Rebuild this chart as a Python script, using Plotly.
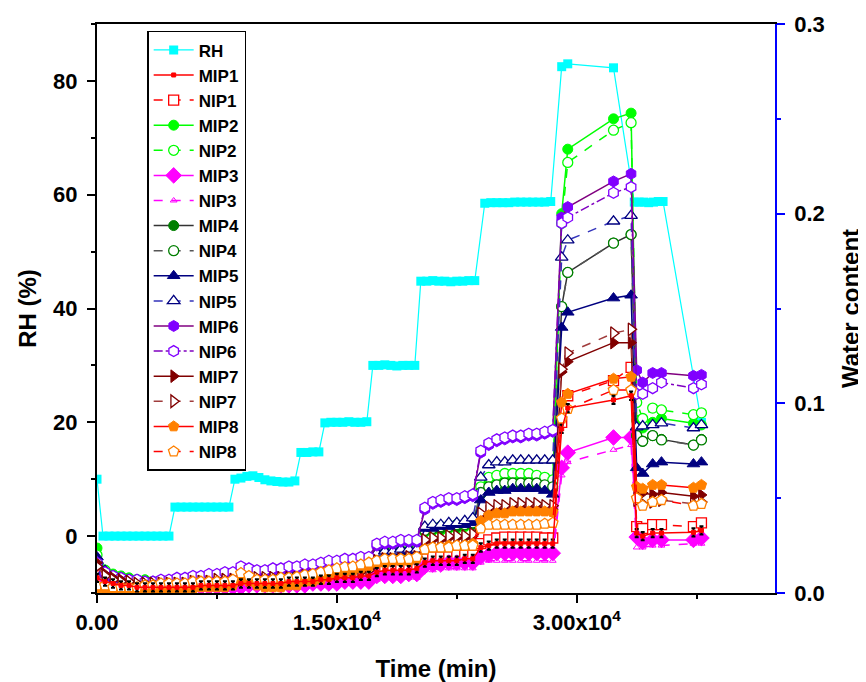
import plotly.graph_objects as go

# ---------------- data ----------------
rh_time = [0,
           375, 750, 1125, 1500, 1875, 2250, 2625, 3000, 3375, 3750, 4125, 4500,
           4875, 5250, 5625, 6000, 6375, 6750, 7125, 7500, 7875, 8250,
           8625, 9000, 9375, 9750, 10125, 10500, 10875, 11250, 11625, 12000, 12375,
           12750, 13125, 13500, 13875,
           14250, 14625, 15000, 15375, 15750, 16125, 16500, 16875,
           17250, 17625, 18000, 18375, 18750, 19125, 19500, 19875,
           20250, 20625, 21000, 21375, 21750, 22125, 22500, 22875, 23250, 23625,
           24250, 24625, 25000, 25375, 25750, 26125, 26500, 26875, 27250, 27625, 28000, 28375,
           29060, 29440, 32300,
           33600, 33900, 34200, 34500, 34800, 35100, 35400,
           37800]
rh_vals = [10.0,
           0, 0, 0, 0, 0, 0, 0, 0, 0, 0, 0, 0,
           5.1, 5.1, 5.1, 5.1, 5.1, 5.1, 5.1, 5.1, 5.1, 5.1,
           10.0, 10.2, 10.5, 10.6, 10.3, 9.9, 9.7, 9.6, 9.5, 9.5, 9.7,
           14.7, 14.7, 14.8, 14.8,
           19.9, 20.0, 20.0, 20.0, 20.1, 20.0, 20.0, 20.1,
           30.0, 30.0, 30.1, 30.0, 29.9, 30.0, 30.0, 30.0,
           44.8, 44.8, 44.9, 44.8, 44.8, 44.7, 44.8, 44.8, 44.9, 44.9,
           58.5, 58.6, 58.6, 58.6, 58.6, 58.7, 58.7, 58.7, 58.7, 58.7, 58.7, 58.8,
           82.5, 83.0, 82.3,
           58.7, 58.7, 58.7, 58.6, 58.7, 58.8, 58.8,
           20.0]

time_wc = [0, 500, 1000, 1500, 2000, 2500, 3000, 3500, 4000, 4500,
           5000, 5500, 6000, 6500, 7000, 7500, 8000, 8500,
           9000, 9500, 10000, 10500, 11000, 11500, 12000, 12500,
           13000, 13500, 14000,
           14500, 15000, 15500, 16000, 16500, 17000,
           17500, 18000, 18500, 19000, 19500, 20000,
           20500, 21000, 21500, 22000, 22500, 23000, 23500,
           24000, 24500, 25000, 25500, 26000, 26500, 27000, 27500, 28000, 28500,
           29060, 29440, 32300, 33400,
           33750, 34125, 34750, 35300, 37300, 37800]

mip1 = [.008, .006, .005, .004, .004, .003, .003, .003, .003, .003,
        .003, .003, .003, .004, .004, .004, .004, .004,
        .005, .005, .005, .005, .005, .005, .006, .006,
        .006, .006, .007,
        .007, .008, .008, .008, .009, .009,
        .011, .012, .012, .012, .012, .013,
        .016, .017, .017, .017, .017, .018, .018,
        .024, .025, .026, .026, .026, .026, .026, .026, .026, .026,
        .0865, .0975, .1018, .104,
        .0316, .030, .0316, .0316, .032, .033]
nip1 = [.009, .006, .005, .004, .004, .004, .004, .004, .004, .004,
        .004, .004, .004, .005, .005, .005, .005, .005,
        .006, .006, .006, .006, .006, .006, .007, .007,
        .007, .007, .008,
        .008, .009, .009, .009, .010, .010,
        .013, .013, .014, .014, .014, .014,
        .018, .019, .019, .019, .020, .020, .020,
        .026, .028, .029, .0295, .0295, .0295, .0295, .0295, .029, .029,
        .090, .104, .112, .119,
        .035, .034, .036, .036, .035, .037]
mip2 = [.0237, .012, .010, .009, .008, .007, .007, .006, .006, .006,
        .006, .007, .007, .007, .008, .008, .008, .009,
        .009, .009, .009, .009, .010, .010, .010, .010,
        .011, .011, .012,
        .013, .013, .013, .014, .014, .015,
        .020, .021, .021, .021, .022, .022,
        .032, .033, .033, .034, .034, .035, .035,
        .054, .058, .059, .060, .060, .060, .060, .060, .059, .058,
        .200, .234, .250, .253,
        .091, .087, .090, .092, .0895, .0886]
nip2 = [.020, .012, .009, .008, .007, .007, .006, .006, .006, .006,
        .006, .007, .007, .008, .008, .008, .009, .009,
        .009, .009, .010, .010, .010, .010, .011, .011,
        .011, .012, .012,
        .013, .014, .014, .015, .015, .015,
        .021, .022, .022, .022, .023, .023,
        .033, .034, .035, .035, .036, .036, .036,
        .056, .061, .062, .063, .063, .063, .063, .062, .061, .0596,
        .195, .227, .244, .248,
        .1005, .092, .0975, .0965, .094, .095]
mip3 = [.005, .004, .003, .003, .003, .003, .003, .003, .003, .003,
        .003, .003, .003, .003, .003, .003, .003, .003,
        .003, .004, .004, .004, .004, .004, .004, .004,
        .004, .005, .005,
        .005, .005, .006, .006, .006, .006,
        .009, .009, .009, .009, .010, .010,
        .014, .015, .015, .016, .016, .016, .016,
        .019, .020, .021, .021, .021, .021, .021, .021, .021, .021,
        .066, .074, .082, .082,
        .0295, .027, .028, .028, .028, .029]
nip3 = [.004, .003, .002, .002, .002, .002, .002, .002, .002, .002,
        .002, .002, .002, .002, .002, .002, .003, .003,
        .003, .003, .003, .003, .003, .003, .003, .003,
        .003, .004, .004,
        .004, .004, .005, .005, .005, .005,
        .007, .008, .008, .008, .008, .008,
        .012, .012, .013, .013, .013, .013, .013,
        .016, .017, .017, .017, .017, .017, .017, .017, .017, .017,
        .062, .069, .0755, .078,
        .024, .024, .025, .025, .026, .026]
mip4 = [.016, .011, .009, .008, .007, .006, .006, .005, .005, .005,
        .006, .006, .007, .007, .007, .008, .008, .008,
        .008, .008, .009, .009, .009, .009, .009, .010,
        .010, .011, .011,
        .012, .013, .013, .014, .014, .014,
        .020, .021, .021, .022, .022, .022,
        .033, .034, .034, .035, .035, .036, .036,
        .052, .055, .056, .057, .057, .057, .057, .057, .056, .055,
        .151, .169, .1845, .189,
        .083, .080, .083, .081, .078, .081]
nip4 = [.015, .010, .008, .007, .006, .006, .006, .005, .005, .005,
        .006, .006, .007, .007, .007, .008, .008, .008,
        .008, .009, .009, .009, .009, .010, .010, .010,
        .010, .011, .011,
        .012, .013, .013, .014, .014, .015,
        .020, .021, .022, .022, .022, .023,
        .033, .034, .035, .035, .036, .036, .037,
        .053, .056, .057, .058, .058, .058, .058, .058, .057, .056,
        .151, .169, .1845, .189,
        .083, .080, .083, .0807, .078, .0807]
mip5 = [.019, .012, .009, .008, .007, .006, .006, .005, .005, .005,
        .005, .006, .006, .007, .007, .007, .008, .008,
        .008, .008, .008, .009, .009, .009, .009, .009,
        .010, .010, .011,
        .012, .012, .013, .013, .014, .014,
        .020, .021, .021, .022, .022, .022,
        .034, .034, .035, .035, .036, .036, .037,
        .049, .053, .054, .054, .055, .055, .055, .055, .054, .052,
        .140, .148, .1555, .157,
        .066, .063, .068, .069, .068, .069]
nip5 = [.017, .011, .008, .007, .006, .006, .005, .005, .005, .005,
        .006, .006, .007, .007, .008, .008, .008, .009,
        .009, .009, .009, .010, .010, .010, .010, .010,
        .011, .011, .012,
        .013, .013, .014, .014, .015, .015,
        .021, .022, .022, .023, .023, .023,
        .035, .036, .036, .037, .037, .038, .0395,
        .061, .0675, .069, .069, .070, .070, .070, .070, .070, .070,
        .177, .186, .196, .199,
        .0875, .088, .0886, .0896, .087, .0886]
mip6 = [.015, .010, .008, .007, .006, .006, .006, .006, .006, .006,
        .007, .007, .008, .008, .009, .009, .010, .010,
        .013, .012, .011, .011, .012, .012, .013, .013,
        .014, .014, .015,
        .016, .016, .017, .017, .018, .018,
        .025, .026, .026, .027, .027, .027,
        .044, .047, .048, .049, .049, .050, .051,
        .074, .078, .080, .081, .082, .082, .083, .083, .084, .085,
        .198, .2035, .217, .221,
        .1175, .111, .116, .116, .1145, .115]
nip6 = [.016, .011, .009, .008, .007, .007, .006, .006, .007, .007,
        .008, .008, .009, .009, .010, .010, .011, .011,
        .014, .013, .012, .012, .013, .013, .014, .014,
        .015, .015, .016,
        .017, .017, .018, .018, .019, .019,
        .026, .027, .027, .028, .028, .028,
        .045, .048, .049, .050, .050, .051, .052,
        .075, .079, .081, .082, .083, .083, .084, .084, .085, .086,
        .195, .198, .211, .214,
        .105, .105, .108, .111, .108, .110]
mip7 = [.016, .010, .008, .007, .006, .005, .005, .005, .005, .005,
        .005, .005, .005, .006, .006, .006, .007, .007,
        .007, .007, .007, .007, .008, .008, .008, .008,
        .008, .009, .009,
        .010, .010, .011, .011, .011, .012,
        .016, .017, .017, .018, .018, .018,
        .027, .028, .028, .029, .029, .029, .030,
        .040, .043, .044, .044, .045, .045, .045, .045, .044, .044,
        .1165, .122, .132, .132,
        .053, .0527, .052, .053, .051, .0517]
nip7 = [.014, .009, .007, .006, .006, .005, .005, .005, .005, .005,
        .005, .005, .006, .006, .006, .007, .007, .007,
        .007, .007, .008, .008, .008, .008, .008, .008,
        .009, .009, .010,
        .010, .011, .011, .012, .012, .012,
        .017, .018, .018, .018, .019, .019,
        .028, .029, .029, .030, .030, .030, .031,
        .042, .045, .046, .046, .047, .047, .047, .047, .046, .046,
        .118, .1265, .137, .139,
        .049, .047, .048, .049, .047, .048]
mip8 = [.002, .002, .001, .001, .001, .001, .001, .001, .001, .002,
        .002, .002, .002, .003, .003, .003, .003, .004,
        .007, .006, .004, .003, .003, .003, .004, .004,
        .006, .006, .007,
        .009, .010, .011, .012, .013, .014,
        .016, .016, .017, .017, .017, .018,
        .023, .024, .024, .025, .025, .025, .026,
        .038, .041, .042, .042, .043, .043, .043, .043, .043, .0427,
        .1005, .105, .113, .114,
        .056, .055, .057, .057, .0555, .057]
nip8 = [.004, .004, .003, .003, .003, .003, .004, .004, .005, .005,
        .005, .005, .006, .006, .006, .006, .006, .007,
        .0105, .009, .007, .007, .007, .008, .008, .0085,
        .0095, .010, .011,
        .012, .013, .0137, .014, .015, .016,
        .017, .018, .018, .018, .018, .019,
        .023, .024, .024, .024, .025, .025, .025,
        .034, .036, .036, .036, .036, .036, .036, .036, .0365, .037,
        .092, .097, .107, .107,
        .050, .046, .048, .049, .046, .047]

x_tickvals = [0, 15000, 30000]
x_ticktext = ["0.00", "1.50x10<sup>4</sup>", "3.00x10<sup>4</sup>"]

# ---------------- figure ----------------
fig = go.Figure()

fig.add_trace(go.Scatter(
    x=rh_time, y=rh_vals, name="RH", mode="lines+markers", yaxis="y", legendrank=1,
    line=dict(color="#00FFFF", width=1.2),
    marker=dict(symbol="square", size=9, color="#00FFFF")))

def filled(name, rank, y, lc, mc, sym, dash="solid", size=10, **kw):
    fig.add_trace(go.Scatter(
        x=time_wc, y=y, name=name, mode="lines+markers", yaxis="y2", legendrank=rank,
        line=dict(color=lc, width=1.5, dash=dash),
        marker=dict(symbol=sym, size=size, color=mc, line=dict(color=mc, width=1)), **kw))

def hollow(name, rank, y, lc, mc, sym, dash="dash", size=10):
    fig.add_trace(go.Scatter(
        x=time_wc, y=y, name=name, mode="lines+markers", yaxis="y2", legendrank=rank,
        line=dict(color=lc, width=1.5, dash=dash),
        marker=dict(symbol=sym, size=size, color="white", line=dict(color=mc, width=1.3))))

hollow("NIP1", 3, nip1, "#FF0000", "#FF0000", "square", dash="dash", size=10)
filled("MIP2", 4, mip2, "#00FF00", "#00FF00", "circle")
hollow("NIP2", 5, nip2, "#00FF00", "#00FF00", "circle")
filled("MIP3", 6, mip3, "#FF00FF", "#FF00FF", "diamond", size=12)
fig.add_trace(go.Scatter(
    x=time_wc, y=nip3, name="NIP3", mode="lines+markers", yaxis="y2", legendrank=7,
    line=dict(color="#FF00FF", width=1.5, dash="dash"),
    marker=dict(symbol="triangle-up-open", size=6, color="#FF00FF", line=dict(width=1))))
filled("MIP4", 8, mip4, "#333333", "#007F00", "circle")
hollow("NIP4", 9, nip4, "#555555", "#007F00", "circle")
filled("MIP5", 10, mip5, "#000080", "#000080", "triangle-up", size=11)
hollow("NIP5", 11, nip5, "#3333BB", "#000080", "triangle-up", size=11)
filled("MIP6", 12, mip6, "#800080", "#8000FF", "hexagon", size=11)
hollow("NIP6", 13, nip6, "#8000C0", "#8000FF", "hexagon", dash="dashdot", size=11)
filled("MIP7", 14, mip7, "#800000", "#800000", "triangle-right", size=11)
hollow("NIP7", 15, nip7, "#A03C3C", "#800000", "triangle-right", size=11)
filled("MIP8", 16, mip8, "#FF0000", "#FF8000", "pentagon", size=11)
hollow("NIP8", 17, nip8, "#FF0000", "#FF8000", "pentagon", size=11)
# MIP1 drawn last (its black error bars sit on top), listed second in the legend
filled("MIP1", 2, mip1, "#FF0000", "#FF0000", "square", size=4,
       error_y=dict(type="constant", value=0.0022, color="black", thickness=2, width=2))

axis_font = dict(family="Liberation Sans, Arial, sans-serif", size=22, color="black", weight="bold")
title_font = dict(family="Liberation Sans, Arial, sans-serif", size=24, color="black", weight="bold")

fig.update_layout(
    width=858, height=674,
    margin=dict(l=89, r=91, t=16, b=89, autoexpand=False),
    paper_bgcolor="white", plot_bgcolor="white",
    font=dict(family="Liberation Sans, Arial, sans-serif", color="black", weight="bold"),
    showlegend=True,
    legend=dict(x=0.074, y=0.988, xanchor="left", yanchor="top",
                bgcolor="white", bordercolor="black", borderwidth=1.5,
                font=dict(family="Liberation Sans, Arial, sans-serif", size=17, color="black", weight="bold"),
                tracegroupgap=0, itemwidth=40, traceorder="normal"),
    xaxis=dict(range=[0, 42400], tickmode="array", tickvals=x_tickvals, ticktext=x_ticktext,
               ticks="outside", ticklen=8, tickwidth=2, tickcolor="black", automargin=False,
               showline=True, linecolor="black", linewidth=2, mirror=True,
               showgrid=False, zeroline=False, tickfont=axis_font, ticklabelstandoff=1,
               minor=dict(tickvals=[7500, 22500, 37500], ticks="outside", ticklen=4,
                          tickwidth=2, tickcolor="black"),
               title=dict(text="Time (min)", font=title_font, standoff=28)),
    yaxis=dict(range=[-10, 90], tick0=0, dtick=20, ticks="outside", ticklen=8, tickwidth=2,
               tickcolor="black", showline=True, linecolor="black", linewidth=2, automargin=False,
               showgrid=False, zeroline=False, tickfont=axis_font, ticklabelstandoff=5,
               minor=dict(tick0=0, dtick=10, ticks="outside", ticklen=4, tickwidth=2,
                          tickcolor="black"),
               title=dict(text="RH (%)", font=title_font, standoff=10)),
    yaxis2=dict(range=[0, 0.3], tick0=0, dtick=0.1, tickformat=".1f", overlaying="y", side="right",
                ticks="outside", ticklen=8, tickwidth=1.5, tickcolor="#0000FF", automargin=False,
                showline=True, linecolor="#0000FF", linewidth=1.5,
                showgrid=False, zeroline=False, tickfont=axis_font, ticklabelstandoff=5,
                minor=dict(tick0=0, dtick=0.05, ticks="outside", ticklen=4, tickwidth=1.5,
                           tickcolor="#0000FF"),
                title=dict(text="Water content", font=title_font, standoff=18)),
)

fig.write_html("out.html")
